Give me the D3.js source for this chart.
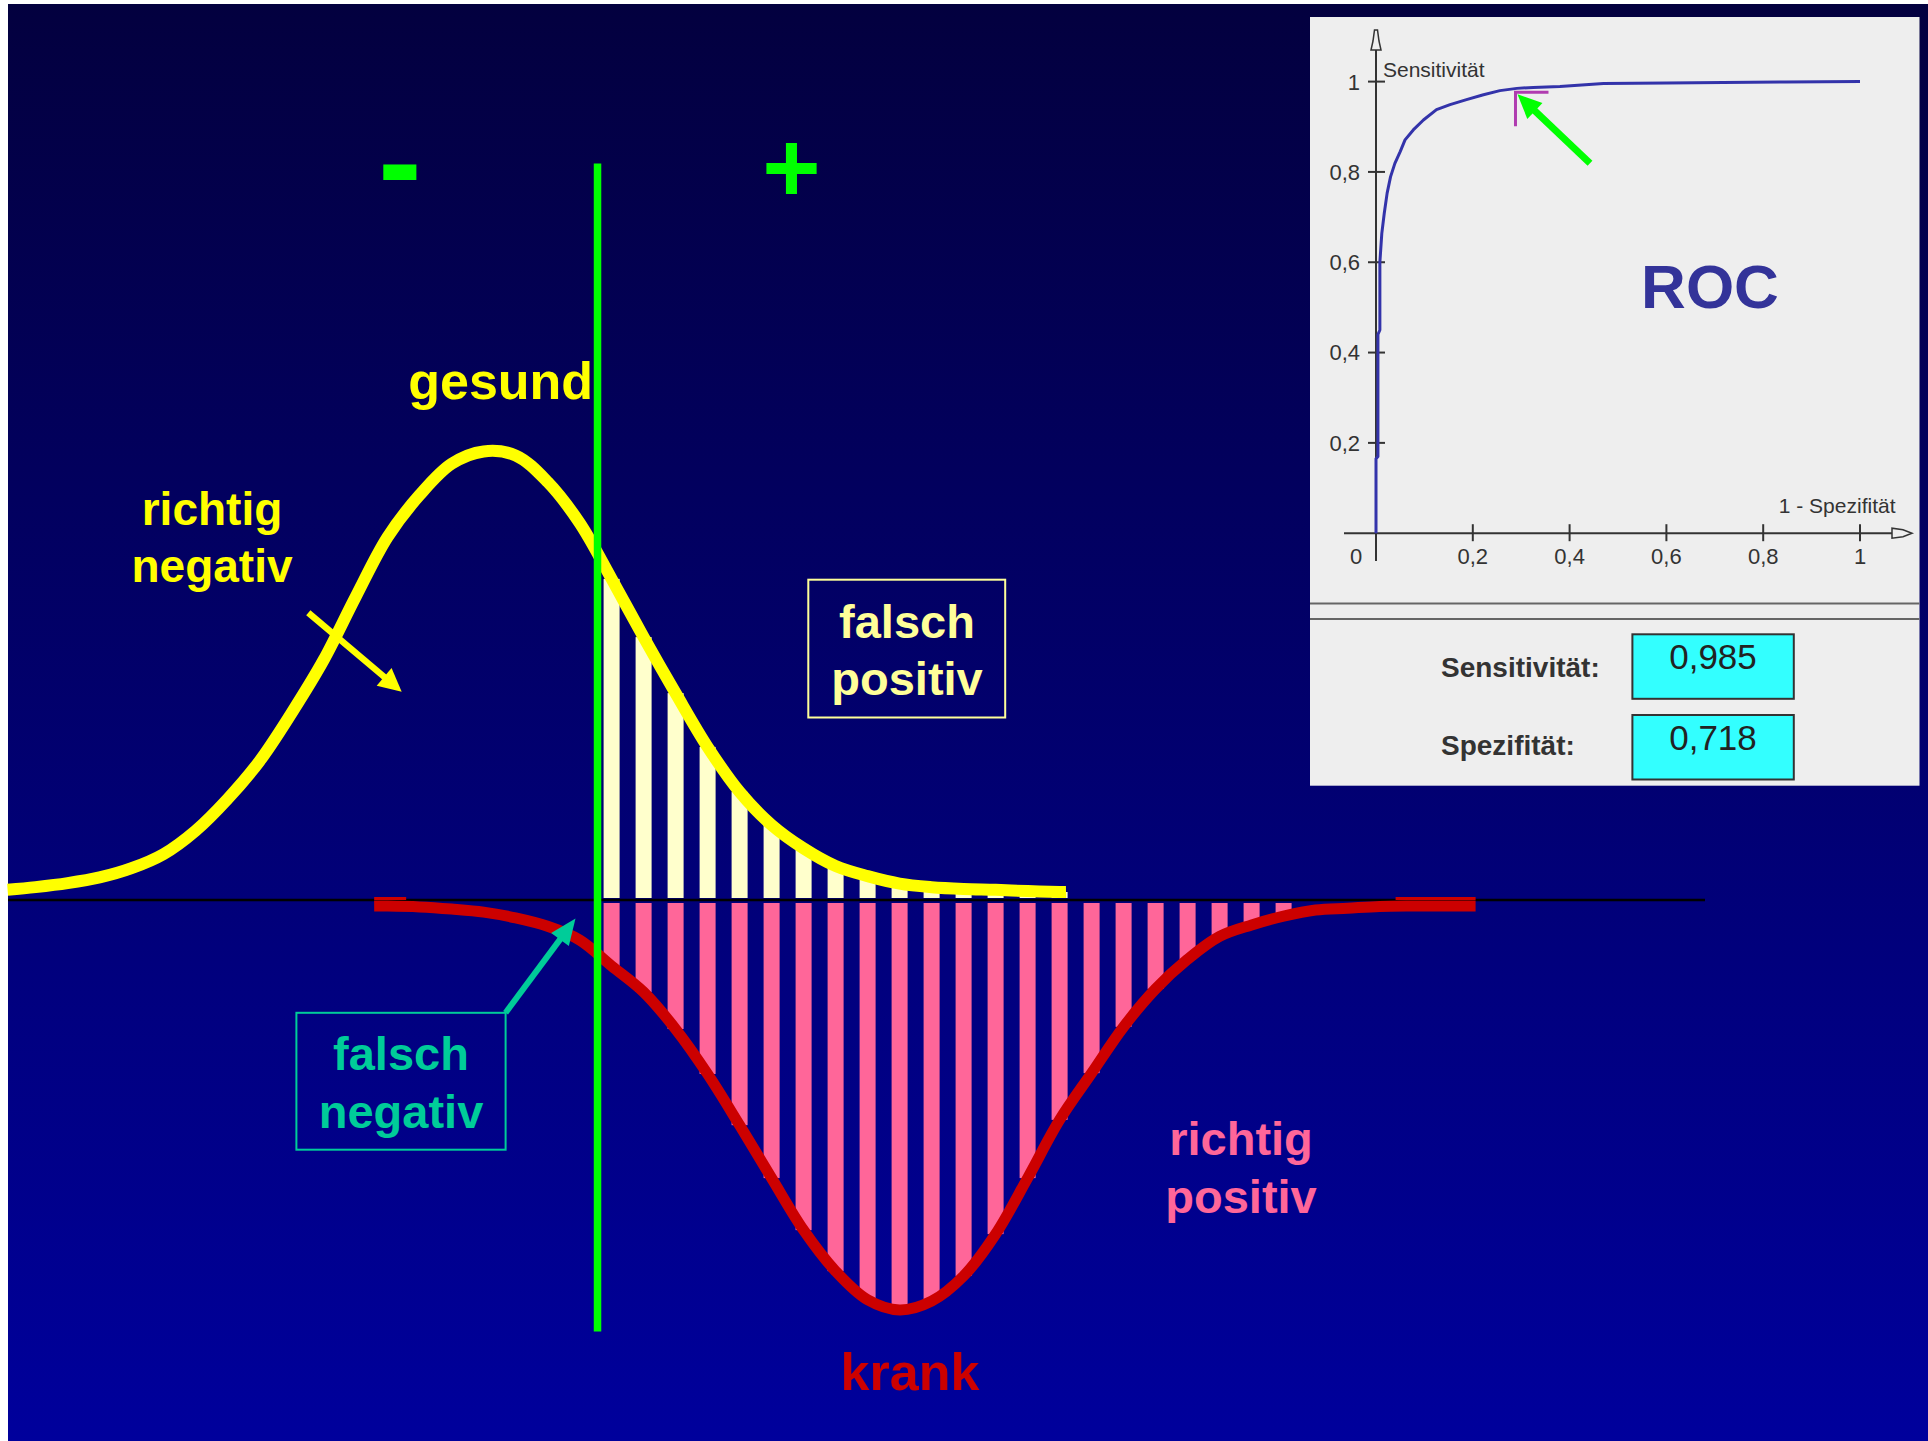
<!DOCTYPE html>
<html>
<head>
<meta charset="utf-8">
<script src="https://cdn.jsdelivr.net/npm/d3@7"></script>
<style>
  html, body { margin: 0; padding: 0; background: #ffffff; overflow: hidden; }
  svg { display: block; }
  text { font-family: "Liberation Sans", Arial, sans-serif; }
</style>
</head>
<body>
<svg id="chart" width="1928" height="1441"></svg>
<script>
// ---- Test value distributions (x = test value, y = relative frequency, peak ~100) ----
const healthyX = [0.125, 1, 2, 3, 4, 5, 6, 7, 8, 9, 10, 11, 12, 13, 14, 15, 16, 17, 18, 19,
                  20, 21, 22, 23, 24, 25, 26, 27, 28, 29, 30, 31, 32, 33, 33.2];
const healthyY = [0.5, 1.1, 2.0, 3.3, 5.4, 8.6, 13.9, 21.1, 29.7, 40.6, 52.6, 66.9, 80.5, 90.0, 97.1, 99.9, 99.0, 93.0, 83.7, 71.0,
                  57.8, 45.1, 32.9, 22.7, 15.2, 9.9, 5.9, 3.6, 1.9, 1.1, 0.7, 0.5, 0.2, 0, 0];

const sickX = [11.58, 12, 13, 14, 15, 16, 17, 18, 19, 20, 21, 22, 23, 24, 25, 26, 27, 28,
               29, 30, 31, 32, 33, 34, 35, 36, 37, 38, 39, 40, 41, 42, 43, 44, 45, 46];
const sickY = [0, 0.0, 0.2, 0.7, 1.4, 2.7, 4.6, 7.7, 13.6, 19.5, 27.9, 38.1, 49.7, 61.7, 73.5, 82.8, 89.3, 91.6,
               89.6, 83.9, 74.4, 61.7, 48.5, 37.9, 27.4, 18.8, 12.1, 6.9, 4.3, 2.3, 0.9, 0.5, 0.1, 0, 0, 0];

// test values above the cutoff that are shown as bars
const barPositions = [19, 20, 21, 22, 23, 24, 25, 26, 27, 28, 29, 30, 31, 32, 33, 34, 35, 36, 37, 38, 39, 40];
const cutoff = 18.56;

// ---- ROC curve ----
const rocFpr = [0, 0, 0.004, 0.004, 0.008, 0.008, 0.012, 0.017, 0.023, 0.030, 0.039, 0.050, 0.060, 0.077,
                0.098, 0.125, 0.153, 0.187, 0.222, 0.256, 0.291, 0.325, 0.380, 0.470, 0.600, 0.845, 1.0];
const rocTpr = [0, 0.165, 0.17, 0.44, 0.45, 0.60, 0.664, 0.708, 0.753, 0.789, 0.819, 0.845, 0.871, 0.893,
                0.915, 0.938, 0.949, 0.960, 0.971, 0.980, 0.985, 0.987, 0.989, 0.996, 0.997, 0.999, 1.0];
const rocTicks = [0, 0.2, 0.4, 0.6, 0.8, 1];
const rocTickLabels = ["0", "0,2", "0,4", "0,6", "0,8", "1"];
const sensitivity = 0.985;
const specificity = 0.718;

const de = d3.formatLocale({ decimal: ",", thousands: ".", grouping: [3], currency: ["", " €"] });
const fmt3 = de.format(".3f");

const svg = d3.select("#chart");

// ---- background ----
const defs = svg.append("defs");
const grad = defs.append("linearGradient").attr("id", "bg").attr("x1", 0).attr("y1", 0).attr("x2", 0).attr("y2", 1);
grad.append("stop").attr("offset", "0%").attr("stop-color", "#03003f");
grad.append("stop").attr("offset", "100%").attr("stop-color", "#00009c");
svg.append("rect").attr("x", 8).attr("y", 4).attr("width", 1920).attr("height", 1437).attr("fill", "url(#bg)");

// ---- scales ----
const x = d3.scaleLinear().domain([0, 50]).range([3.6, 1603.6]);
const baseY = 900;
const yHealthy = d3.scaleLinear().domain([0, 100]).range([baseY - 8, baseY - 8 - 441]);
const ySick = d3.scaleLinear().domain([0, 100]).range([baseY + 6, baseY + 6 + 441]);
const barW = x(0.5) - x(0);

const healthy = healthyX.map((v, i) => ({ x: v, y: healthyY[i] }));
const sick = sickX.map((v, i) => ({ x: v, y: sickY[i] }));
const lookup = (arr, v) => { const p = arr.find(d => d.x === v); return p ? p.y : null; };

// ---- bars: false positives (healthy, above cutoff) ----
svg.append("g").selectAll("rect")
  .data(barPositions.map(v => ({ x: v, y: lookup(healthy, v) })).filter(d => d.y !== null && d.x > cutoff))
  .join("rect")
  .attr("x", d => x(d.x) - barW / 2)
  .attr("y", d => yHealthy(d.y))
  .attr("width", barW)
  .attr("height", d => Math.max(0, (baseY - 2) - yHealthy(d.y)))
  .attr("fill", "#ffffcc");

// ---- bars: true positives (sick, above cutoff) ----
svg.append("g").selectAll("rect")
  .data(barPositions.map(v => ({ x: v, y: lookup(sick, v) })).filter(d => d.y !== null && d.x > cutoff))
  .join("rect")
  .attr("x", d => x(d.x) - barW / 2)
  .attr("y", baseY + 3)
  .attr("width", barW)
  .attr("height", d => Math.max(0, ySick(d.y) - (baseY + 3)))
  .attr("fill", "#ff6699");

// ---- baseline ----
svg.append("line").attr("x1", 8).attr("x2", 1705).attr("y1", baseY).attr("y2", baseY)
  .attr("stroke", "#000000").attr("stroke-width", 2.5);

// ---- distribution curves ----
const smooth = d3.curveCatmullRom.alpha(0.5);
const lineH = d3.line().x(d => x(d.x)).y(d => yHealthy(d.y)).curve(smooth);
const lineS = d3.line().x(d => x(d.x)).y(d => ySick(d.y)).curve(smooth);

// thin tails of the krank curve along the axis
const sFirst = sick[0].x, sLast = sick[sick.length - 1].x;
[[sFirst, sFirst + 1], [sLast - 2.5, sLast]].forEach(([a, b]) => {
  svg.append("line").attr("x1", x(a)).attr("x2", x(b)).attr("y1", baseY - 1.5).attr("y2", baseY - 1.5)
    .attr("stroke", "#cc0000").attr("stroke-width", 3);
});

svg.append("path").attr("d", lineS(sick)).attr("fill", "none")
  .attr("stroke", "#cc0000").attr("stroke-width", 11).attr("stroke-linejoin", "round");
svg.append("path").attr("d", lineH(healthy)).attr("fill", "none")
  .attr("stroke", "#ffff00").attr("stroke-width", 12).attr("stroke-linejoin", "round");

// ---- cutoff line ----
svg.append("line").attr("x1", x(cutoff)).attr("x2", x(cutoff)).attr("y1", 163.5).attr("y2", 1331.5)
  .attr("stroke", "#00ff00").attr("stroke-width", 7.5);

// ---- arrows ----
function arrow(g, x1, y1, x2, y2, color, w, headLen, headHalf) {
  const dx = x2 - x1, dy = y2 - y1, L = Math.hypot(dx, dy);
  const ux = dx / L, uy = dy / L, px = -uy, py = ux;
  const bx = x2 - ux * headLen, by = y2 - uy * headLen;
  g.append("line").attr("x1", x1).attr("y1", y1).attr("x2", bx + ux * 2).attr("y2", by + uy * 2)
    .attr("stroke", color).attr("stroke-width", w);
  g.append("path")
    .attr("d", `M${x2},${y2}L${bx + px * headHalf},${by + py * headHalf}L${bx - px * headHalf},${by - py * headHalf}Z`)
    .attr("fill", color);
}
arrow(svg, 308.3, 612.7, 401.7, 691.7, "#ffff00", 6.5, 23, 11.5);
arrow(svg, 505.6, 1012.8, 575.5, 918.6, "#00cc99", 6, 26, 11);

// ---- labels ----
function label(lines, cx, baselines, size, color) {
  lines.forEach((t, i) => {
    svg.append("text").attr("x", cx).attr("y", baselines[i]).attr("text-anchor", "middle")
      .attr("font-size", size).attr("font-weight", "bold").attr("fill", color).text(t);
  });
}
label(["-"], 400, [206], 130, "#00ff00");
label(["+"], 791.5, [202], 100, "#00ff00");
label(["gesund"], 500.7, [399], 52, "#ffff00");
label(["richtig", "negativ"], 212, [525, 582], 46, "#ffff00");
label(["falsch", "positiv"], 907, [638, 695], 47, "#ffff99");
label(["falsch", "negativ"], 401, [1069.7, 1127.8], 47, "#00cc99");
label(["krank"], 910, [1390], 52, "#cc0000");
label(["richtig", "positiv"], 1241, [1154.6, 1212.6], 47, "#ff6699");

svg.append("rect").attr("x", 808.3).attr("y", 579.7).attr("width", 196.9).attr("height", 137.8)
  .attr("fill", "none").attr("stroke", "#ffff99").attr("stroke-width", 2);
svg.append("rect").attr("x", 296.4).attr("y", 1012.8).attr("width", 209.2).attr("height", 136.9)
  .attr("fill", "none").attr("stroke", "#00cc99").attr("stroke-width", 2);

// ---- ROC panel ----
const roc = svg.append("g");
roc.append("rect").attr("x", 1310).attr("y", 17).attr("width", 609.5).attr("height", 768.7).attr("fill", "#eeeeee");

const rx = d3.scaleLinear().domain([0, 1]).range([1376, 1860]);
const ry = d3.scaleLinear().domain([0, 1]).range([533.2, 81.6]);
const axisColor = "#333333";

// axes
roc.append("line").attr("x1", rx(0)).attr("x2", rx(0)).attr("y1", 561).attr("y2", 50)
  .attr("stroke", axisColor).attr("stroke-width", 2);
roc.append("line").attr("x1", 1344).attr("x2", 1892).attr("y1", ry(0)).attr("y2", ry(0))
  .attr("stroke", axisColor).attr("stroke-width", 2);
// hollow axis heads
roc.append("path").attr("d", `M${rx(0) - 5},50 L${rx(0) + 5},50 L${rx(0) + 3},41 L${rx(0) + 1.5},30 L${rx(0) - 1.5},30 L${rx(0) - 3},41 Z`)
  .attr("fill", "#eeeeee").attr("stroke", axisColor).attr("stroke-width", 1.5);
roc.append("path").attr("d", `M1892,${ry(0) - 5} L1892,${ry(0) + 5} L1903,${ry(0) + 3.5} L1912,${ry(0)} L1903,${ry(0) - 3.5} Z`)
  .attr("fill", "#eeeeee").attr("stroke", axisColor).attr("stroke-width", 1.5);

// ticks
rocTicks.filter(t => t > 0).forEach(t => {
  roc.append("line").attr("x1", rx(0) - 8).attr("x2", rx(0) + 9).attr("y1", ry(t)).attr("y2", ry(t))
    .attr("stroke", axisColor).attr("stroke-width", 2);
  roc.append("line").attr("x1", rx(t)).attr("x2", rx(t)).attr("y1", ry(0) - 9).attr("y2", ry(0) + 8)
    .attr("stroke", axisColor).attr("stroke-width", 2);
});
rocTicks.forEach((t, i) => {
  if (t > 0) {
    roc.append("text").attr("x", rx(0) - 16).attr("y", ry(t)).attr("dy", "0.36em").attr("text-anchor", "end")
      .attr("font-size", 22).attr("fill", axisColor).text(rocTickLabels[i]);
  }
  roc.append("text").attr("x", t === 0 ? rx(0) - 20 : rx(t)).attr("y", 564).attr("text-anchor", "middle")
    .attr("font-size", 22).attr("fill", axisColor).text(rocTickLabels[i]);
});
roc.append("text").attr("x", 1383).attr("y", 76.7).attr("font-size", 21).attr("fill", axisColor).text("Sensitivität");
roc.append("text").attr("x", 1895.5).attr("y", 513.3).attr("text-anchor", "end").attr("font-size", 21)
  .attr("fill", axisColor).text("1 - Spezifität");

// curve
const rocPts = rocFpr.map((f, i) => [f, rocTpr[i]]);
roc.append("path").attr("d", d3.line().x(d => rx(d[0])).y(d => ry(d[1]))(rocPts))
  .attr("fill", "none").attr("stroke", "#3333aa").attr("stroke-width", 3).attr("stroke-linejoin", "round");

// operating point marker
const opX = rx(1 - specificity) + 3, opY = ry(sensitivity) + 4;
roc.append("path").attr("d", `M${opX},${opY + 34} L${opX},${opY} L${opX + 33},${opY}`)
  .attr("fill", "none").attr("stroke", "#b03cb0").attr("stroke-width", 3);

// arrow pointing at the operating point
arrow(roc, 1590, 163.3, opX + 2, opY + 2, "#00ff00", 7, 24, 11);

roc.append("text").attr("x", 1710).attr("y", 308).attr("text-anchor", "middle").attr("font-size", 62)
  .attr("font-weight", "bold").attr("fill", "#333399").text("ROC");

// separator
[603.6, 618.9].forEach(yy => roc.append("line").attr("x1", 1310).attr("x2", 1919.5).attr("y1", yy).attr("y2", yy)
  .attr("stroke", "#666666").attr("stroke-width", 2));

// value boxes
const stats = [
  { name: "Sensitivität:", value: sensitivity, top: 634.3, base: 676.7 },
  { name: "Spezifität:", value: specificity, top: 715, base: 755 }
];
stats.forEach(s => {
  roc.append("text").attr("x", 1441).attr("y", s.base).attr("font-size", 28).attr("font-weight", "bold")
    .attr("fill", "#333333").text(s.name);
  roc.append("rect").attr("x", 1632.4).attr("y", s.top).attr("width", 161.4).attr("height", 64.5)
    .attr("fill", "#33ffff").attr("stroke", "#333333").attr("stroke-width", 2);
  roc.append("text").attr("x", 1713).attr("y", s.top + 35).attr("text-anchor", "middle").attr("font-size", 35)
    .attr("fill", "#222222").text(fmt3(s.value));
});
</script>
</body>
</html>
